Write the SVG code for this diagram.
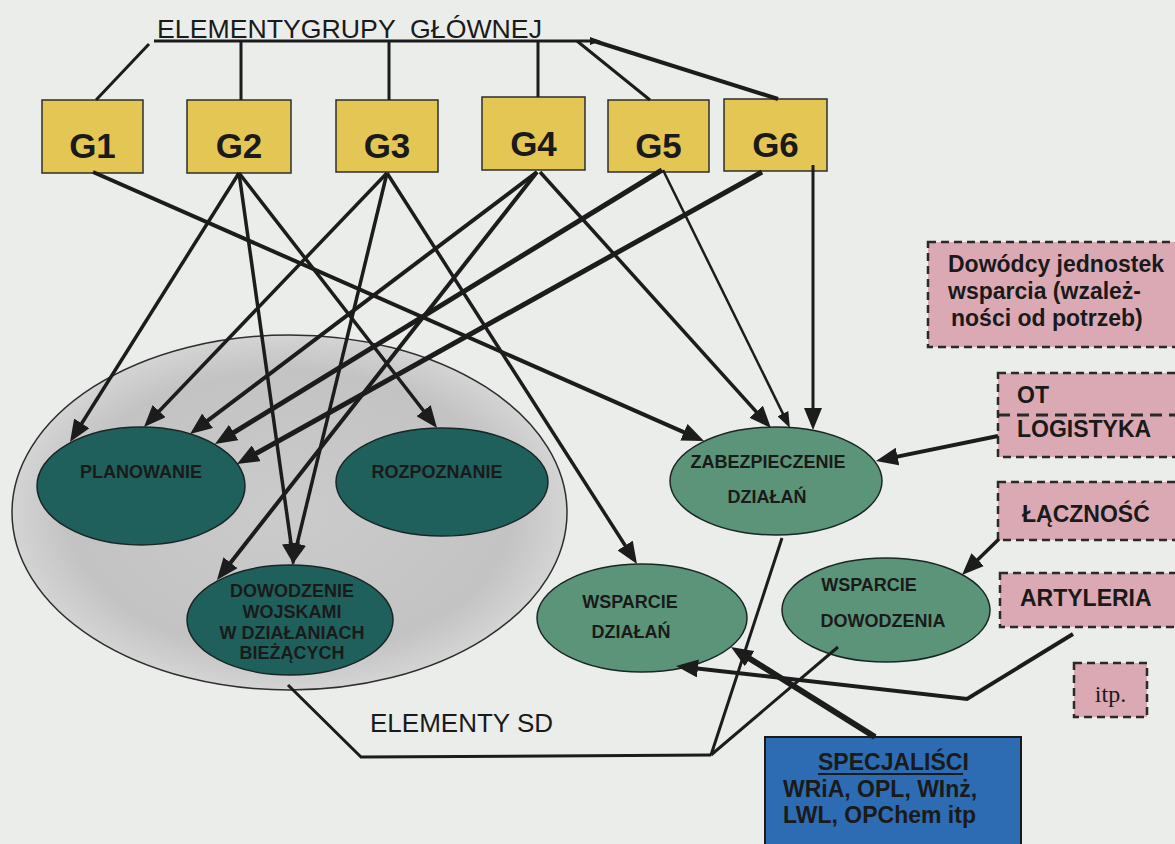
<svg xmlns="http://www.w3.org/2000/svg" width="1175" height="844" viewBox="0 0 1175 844">
  <defs>
    <radialGradient id="greyFill" cx="50%" cy="50%" r="50%">
      <stop offset="0%" stop-color="#cbcbcb"/>
      <stop offset="80%" stop-color="#c3c3c3"/>
      <stop offset="100%" stop-color="#d4d4d4"/>
    </radialGradient>
    <marker id="ah" markerUnits="userSpaceOnUse" markerWidth="22" markerHeight="18" refX="14" refY="9" orient="auto">
      <path d="M0,0 L22,9 L0,18 Z" fill="#1c1c1c"/>
    </marker>
    <marker id="ahs" markerUnits="userSpaceOnUse" markerWidth="16" markerHeight="12" refX="10" refY="6" orient="auto">
      <path d="M0,0 L16,6 L0,12 Z" fill="#1c1c1c"/>
    </marker>
    <style>
      .bg { fill: #ebedea; }
      .gbox { fill: #e4c655; stroke: #2e2e2e; stroke-width: 1.5; }
      .glabel { font-family: "Liberation Sans", Arial, sans-serif; font-weight: bold; font-size: 35px; fill: #1a1a1a; text-anchor: middle; }
      .dark { fill: #1f605c; stroke: #1a2626; stroke-width: 1.5; }
      .green { fill: #5b9479; stroke: #1a2626; stroke-width: 1.5; }
      .elab { font-family: "Liberation Sans", Arial, sans-serif; font-weight: bold; font-size: 18px; fill: #1a1a1a; text-anchor: middle; }
      .pink { fill: #dba9b4; stroke: #2a2a2a; stroke-width: 2.5; stroke-dasharray: 8 5; }
      .plab { font-family: "Liberation Sans", Arial, sans-serif; font-weight: bold; font-size: 23px; fill: #1a1a1a; }
      .plain { font-family: "Liberation Sans", Arial, sans-serif; font-size: 26px; fill: #1a1a1a; white-space: pre; }
      .ln { fill: none; stroke: #1c1c1c; stroke-linejoin: miter; }
    </style>
  </defs>

  <rect class="bg" x="0" y="0" width="1175" height="844"/>

  <!-- large grey field holding the SD elements -->
  <g id="sd-field">
    <ellipse cx="289.5" cy="512.5" rx="277.5" ry="177.5" fill="url(#greyFill)" stroke="#2e2e2e" stroke-width="1.5"/>
  </g>

  <!-- heading -->
  <g id="heading">
    <text class="plain" x="157" y="38" textLength="385" lengthAdjust="spacingAndGlyphs">ELEMENTYGRUPY  GŁÓWNEJ</text>
    <line class="ln" x1="154" y1="41" x2="594" y2="41" stroke-width="3"/>
    <path d="M590,37 L601,41 L590,45 Z" fill="#1c1c1c"/>
  </g>

  <!-- group members -->
  <g id="g1"><rect class="gbox" x="42" y="100" width="101" height="73"/><text class="glabel" x="92.5" y="158">G1</text></g>
  <g id="g2"><rect class="gbox" x="187" y="100" width="104" height="73"/><text class="glabel" x="239" y="158">G2</text></g>
  <g id="g3"><rect class="gbox" x="336" y="100" width="102" height="72"/><text class="glabel" x="387" y="158">G3</text></g>
  <g id="g4"><rect class="gbox" x="482" y="97" width="103" height="73"/><text class="glabel" x="533.5" y="156">G4</text></g>
  <g id="g5"><rect class="gbox" x="608" y="100" width="101" height="72"/><text class="glabel" x="658.5" y="158">G5</text></g>
  <g id="g6"><rect class="gbox" x="724" y="99" width="103" height="72"/><text class="glabel" x="775.5" y="157">G6</text></g>

  <!-- SD elements -->
  <g id="planowanie">
    <ellipse class="dark" cx="141" cy="486" rx="104" ry="59"/>
    <text class="elab" x="141" y="478">PLANOWANIE</text>
  </g>
  <g id="rozpoznanie">
    <ellipse class="dark" cx="442" cy="482" rx="106" ry="54"/>
    <text class="elab" x="437" y="478">ROZPOZNANIE</text>
  </g>
  <g id="dowodzenie">
    <ellipse class="dark" cx="290" cy="620" rx="103" ry="55"/>
    <text class="elab" x="292" y="597">DOWODZENIE</text>
    <text class="elab" x="292" y="618">WOJSKAMI</text>
    <text class="elab" x="292" y="639">W DZIAŁANIACH</text>
    <text class="elab" x="292" y="659">BIEŻĄCYCH</text>
  </g>

  <!-- support elements -->
  <g id="zabezpieczenie">
    <ellipse class="green" cx="776" cy="481" rx="106" ry="54"/>
    <text class="elab" x="768" y="468">ZABEZPIECZENIE</text>
    <text class="elab" x="767" y="503">DZIAŁAŃ</text>
  </g>
  <g id="wsparcie-dzialan">
    <ellipse class="green" cx="642" cy="618" rx="105" ry="54"/>
    <text class="elab" x="630" y="608">WSPARCIE</text>
    <text class="elab" x="631" y="638">DZIAŁAŃ</text>
  </g>
  <g id="wsparcie-dowodzenia">
    <ellipse class="green" cx="886" cy="610" rx="104" ry="52"/>
    <text class="elab" x="869" y="591">WSPARCIE</text>
    <text class="elab" x="883" y="627">DOWODZENIA</text>
  </g>

  <!-- supporting units -->
  <g id="dowodcy">
    <rect class="pink" x="928" y="242" width="262" height="105"/>
    <text class="plab" x="948" y="272">Dowódcy jednostek</text>
    <text class="plab" x="948" y="299">wsparcia (wzależ-</text>
    <text class="plab" x="951" y="326">ności od potrzeb)</text>
  </g>
  <g id="ot-logistyka">
    <rect class="pink" x="998" y="373" width="192" height="84"/>
    <line x1="998" y1="415" x2="1175" y2="415" stroke="#2a2a2a" stroke-width="3" stroke-dasharray="12 7"/>
    <text class="plab" x="1017" y="403">OT</text>
    <text class="plab" x="1017" y="437">LOGISTYKA</text>
  </g>
  <g id="lacznosc">
    <rect class="pink" x="998" y="482" width="192" height="58"/>
    <text class="plab" x="1022" y="522">ŁĄCZNOŚĆ</text>
  </g>
  <g id="artyleria">
    <rect class="pink" x="1000" y="573" width="190" height="54"/>
    <text class="plab" x="1020" y="606">ARTYLERIA</text>
  </g>
  <g id="itp">
    <rect class="pink" x="1074" y="663" width="73" height="54"/>
    <text x="1110.5" y="702" font-family="'Liberation Serif', 'Times New Roman', serif" font-size="24" fill="#1a1a1a" text-anchor="middle">itp.</text>
  </g>
  <g id="specjalisci">
    <rect x="765" y="737" width="256" height="120" fill="#2d6cb2" stroke="#1a1a1a" stroke-width="2"/>
    <text class="plab" x="818" y="770">SPECJALIŚCI</text>
    <line x1="818" y1="774" x2="963" y2="774" stroke="#1a1a1a" stroke-width="1.8"/>
    <text class="plab" x="783" y="797">WRiA, OPL, WInż,</text>
    <text class="plab" x="783" y="823">LWL, OPChem itp</text>
  </g>

  <g id="elementy-sd-label">
    <text class="plain" x="370" y="732">ELEMENTY SD</text>
  </g>

  <!-- connectors -->
  <g id="connectors" class="ln">
    <!-- heading to group members -->
    <line x1="149" y1="44" x2="96" y2="100" stroke-width="3"/>
    <line x1="241" y1="41" x2="241" y2="100" stroke-width="3"/>
    <line x1="389" y1="41" x2="389" y2="100" stroke-width="3"/>
    <line x1="538" y1="41" x2="538" y2="97" stroke-width="3"/>
    <line x1="577" y1="41" x2="650" y2="100" stroke-width="3"/>
    <line x1="594" y1="41" x2="778" y2="99" stroke-width="4"/>

    <!-- group members to elements -->
    <line x1="93" y1="172" x2="696.7" y2="437.8" stroke-width="4" marker-end="url(#ah)"/>
    <line x1="239" y1="173" x2="74.3" y2="435.2" stroke-width="3.5" marker-end="url(#ah)"/>
    <line x1="239" y1="173" x2="292.9" y2="557.1" stroke-width="3.5" marker-end="url(#ah)"/>
    <line x1="239" y1="173" x2="432.1" y2="421.7" stroke-width="3.5" marker-end="url(#ah)"/>
    <line x1="387" y1="173" x2="149.5" y2="421.2" stroke-width="3.5" marker-end="url(#ah)"/>
    <line x1="387" y1="173" x2="293.9" y2="557.2" stroke-width="3.5" marker-end="url(#ah)"/>
    <line x1="387" y1="173" x2="632.7" y2="557.3" stroke-width="3.5" marker-end="url(#ah)"/>
    <line x1="537" y1="172" x2="196.4" y2="429.2" stroke-width="4" marker-end="url(#ah)"/>
    <line x1="537" y1="172" x2="221.9" y2="573.7" stroke-width="4" marker-end="url(#ah)"/>
    <line x1="540" y1="172" x2="765.6" y2="422.1" stroke-width="3.5" marker-end="url(#ah)"/>
    <line x1="662" y1="170" x2="221.8" y2="439.8" stroke-width="5" marker-end="url(#ah)"/>
    <line x1="663" y1="170" x2="787.3" y2="422.6" stroke-width="2.5" marker-end="url(#ahs)"/>
    <line x1="762" y1="172" x2="244" y2="460.1" stroke-width="5" marker-end="url(#ah)"/>
    <line x1="813" y1="165" x2="813" y2="422" stroke-width="3" marker-end="url(#ah)"/>

    <!-- supporting units to support elements -->
    <line x1="998" y1="436" x2="883.8" y2="459.4" stroke-width="4" marker-end="url(#ah)"/>
    <line x1="999" y1="539" x2="967.7" y2="569.4" stroke-width="3.5" marker-end="url(#ah)"/>
    <polyline points="1073,634 967,699 684,666.9" stroke-width="4" marker-end="url(#ah)"/>
    <line x1="875" y1="737" x2="737.8" y2="651.2" stroke-width="6" marker-end="url(#ah)"/>

    <!-- ELEMENTY SD bracket -->
    <polyline points="288,685 361,757 711,755" stroke-width="3"/>
    <line x1="711" y1="755" x2="782" y2="538" stroke-width="3"/>
    <line x1="711" y1="755" x2="838" y2="647" stroke-width="3"/>
  </g>
</svg>
